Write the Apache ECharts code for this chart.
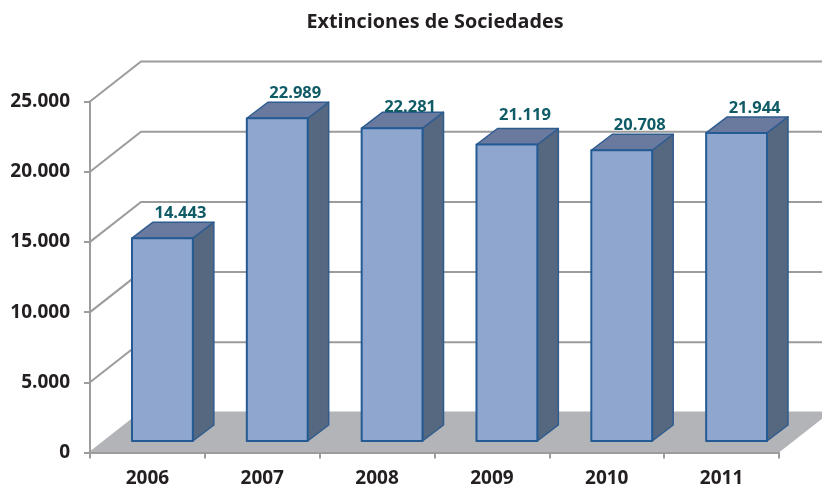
<!DOCTYPE html>
<html><head><meta charset="utf-8">
<style>html,body{margin:0;padding:0;background:#fff}#c{width:822px;height:490px}</style>
<script src="https://cdn.jsdelivr.net/npm/echarts@6/dist/echarts.min.js"></script>
</head><body><div id="c"></div>
<script>
const titleText = 'Extinciones de Sociedades';
const categories = ['2006','2007','2008','2009','2010','2011'];
const values = [14443,22989,22281,21119,20708,21944];
const yTicks = [0,5000,10000,15000,20000,25000];
const labelLift = [9,9,5,13,9,9];

const FONT = '"Open Sans", Lato, sans-serif';
const fmt = v => String(v).replace(/\B(?=(\d{3})+$)/g,'.');
const WALL = {dx:51, dy:-40};
const PLANE = {dx:15, dy:-11.5};
const SIDE = {dx:21, dy:-16};
const LINE = '#9c9c9c';

const chart = echarts.init(document.getElementById('c'), null, {renderer:'canvas'});
chart.setOption({
  animation:false,
  backgroundColor:'#fff',
  title:{text:titleText,left:430,top:7,textAlign:'center',
    textStyle:{fontFamily:FONT,fontWeight:'bold',fontSize:19.8,color:'#231f20'}},
  grid:{left:90,right:43,top:101.5,bottom:37.5,containLabel:false},
  xAxis:{type:'category',data:categories,z:5,
    axisLine:{lineStyle:{color:LINE,width:2}},
    axisTick:{show:true,alignWithLabel:false,length:6,lineStyle:{color:LINE,width:2}},
    axisLabel:{margin:17,fontFamily:FONT,fontWeight:'bold',fontSize:19,color:'#231f20'},
    splitLine:{show:false}},
  yAxis:{type:'value',min:0,max:25000,interval:5000,z:5,
    axisLine:{show:true,lineStyle:{color:LINE,width:2}},
    axisTick:{show:true,length:6,lineStyle:{color:LINE,width:2}},
    axisLabel:{margin:20,formatter:v=>fmt(v),fontFamily:FONT,fontWeight:'bold',fontSize:19,color:'#231f20'},
    splitLine:{show:false}},
  series:[
    {type:'custom',z:1,silent:true,clip:false,coordinateSystem:'cartesian2d',
     data:yTicks.map(v=>[0,v]),encode:{x:0,y:1},
     renderItem(params,api){
       const v=api.value(1), p=api.coord([0,v]);
       const cs=params.coordSys, x0=cs.x, x1=cs.x+cs.width;
       const children=[];
       if(v===0){
         children.push({type:'polygon',shape:{points:[[x0,p[1]],[x1,p[1]],[x1+WALL.dx,p[1]+WALL.dy],[x0+WALL.dx,p[1]+WALL.dy]]},
           style:{fill:'#b2b4b7',stroke:null}});
       }
       children.push({type:'polyline',shape:{points:[[x0,p[1]],[x0+WALL.dx,p[1]+WALL.dy],[x1+WALL.dx,p[1]+WALL.dy]]},
         style:{fill:null,stroke:v===0?'#b2b4b7':LINE,lineWidth:2}});
       return {type:'group',children};
     }},
    {type:'custom',z:3,silent:true,clip:false,coordinateSystem:'cartesian2d',
     data:values.map((v,i)=>[i,v]),encode:{x:0,y:1},
     renderItem(params,api){
       const i=api.value(0), v=api.value(1);
       const top=api.coord([i,v]), base=api.coord([i,0]);
       const w=api.size([1,0])[0]*0.53;
       const xl=top[0]+PLANE.dx-w/2, xr=xl+w, yt=top[1]+PLANE.dy, yb=base[1]+PLANE.dy;
       const edge={stroke:'#245b94',lineWidth:2,lineJoin:'round'};
       return {type:'group',children:[
         {type:'polygon',shape:{points:[[xr,yt],[xr+SIDE.dx,yt+SIDE.dy],[xr+SIDE.dx,yb+SIDE.dy],[xr,yb]]},
          style:{fill:'#566780',stroke:'#2f5c8f',lineWidth:1.5,lineJoin:'round'}},
         {type:'polygon',shape:{points:[[xl,yt],[xl+SIDE.dx,yt+SIDE.dy],[xr+SIDE.dx,yt+SIDE.dy],[xr,yt]]},
          style:{fill:'#6a7a9e',stroke:'#2f5c8f',lineWidth:1.5,lineJoin:'round'}},
         {type:'rect',shape:{x:xl,y:yt,width:w,height:yb-yt},style:Object.assign({fill:'#8fa7ce'},edge)},
         {type:'text',x:(xl+xr)/2+18,y:yt+SIDE.dy-labelLift[i],
          style:{text:fmt(v),fill:'#0f5b66',font:'bold 16.5px '+FONT,align:'center',verticalAlign:'middle'}}
       ]};
     }}
  ]
});
</script></body></html>
